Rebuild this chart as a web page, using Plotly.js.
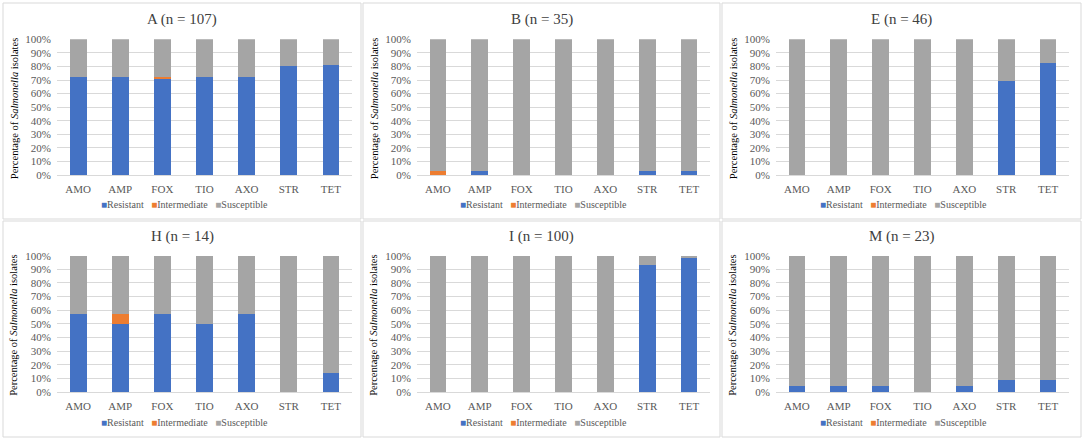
<!DOCTYPE html>
<html><head><meta charset="utf-8">
<script src="https://cdn.plot.ly/plotly-3.0.1.min.js"></script>
<style>body{margin:0;background:#fff}#chart{width:1084px;height:440px}</style>
</head><body><div id="chart"></div>
<script>
const antibiotics = ['AMO','AMP','FOX','TIO','AXO','STR','TET'];
const panelTitles = ['A (n = 107)','B (n = 35)','E (n = 46)','H (n = 14)','I (n = 100)','M (n = 23)'];
const seriesNames = ['Resistant','Intermediate','Susceptible'];
const seriesColors = ['#4472C4','#ED7D31','#A5A5A5'];
const yTickVals = [0,10,20,30,40,50,60,70,80,90,100];

// Percent of isolates per antibiotic
const resistantA    = [72.0,72.0,71.0,72.0,72.0,80.4,81.3];
const intermediateA = [0,0,0.9,0,0,0,0];
const susceptibleA  = [28.0,28.0,28.1,28.0,28.0,19.6,18.7];

const resistantB    = [0,2.9,0,0,0,2.9,2.9];
const intermediateB = [2.9,0,0,0,0,0,0];
const susceptibleB  = [97.1,97.1,100,100,100,97.1,97.1];

const resistantE    = [0,0,0,0,0,69.6,82.6];
const intermediateE = [0,0,0,0,0,0,0];
const susceptibleE  = [100,100,100,100,100,30.4,17.4];

const resistantH    = [57.1,50.0,57.1,50.0,57.1,0,14.3];
const intermediateH = [0,7.1,0,0,0,0,0];
const susceptibleH  = [42.9,42.9,42.9,50.0,42.9,100,85.7];

const resistantI    = [0,0,0,0,0,93,98];
const intermediateI = [0,0,0,0,0,0,0];
const susceptibleI  = [100,100,100,100,100,7,2];

const resistantM    = [4.3,4.3,4.3,0,4.3,8.7,8.7];
const intermediateM = [0,0,0,0,0,0,0];
const susceptibleM  = [95.7,95.7,95.7,100,95.7,91.3,91.3];

const panelData = [
  [resistantA, intermediateA, susceptibleA],
  [resistantB, intermediateB, susceptibleB],
  [resistantE, intermediateE, susceptibleE],
  [resistantH, intermediateH, susceptibleH],
  [resistantI, intermediateI, susceptibleI],
  [resistantM, intermediateM, susceptibleM]
];

// layout geometry in pixels
const W = 1084, H = 440;
const FONT = '"Liberation Serif", "Times New Roman", "DejaVu Serif", serif';
const panelBoxes = [
  [3,361,3,219],[363,720,3,219],[722,1081,3,219],
  [3,361,221,437],[363,720,221,437],[722,1081,221,437]
];
const plotX = [[57,352],[417,710],[776,1069]];
const plotY = [[39.3,175],[255.7,392]];
const titleY = [19, 236];
const legendY = [205, 422];

const px = v => v / W;
const py = v => 1 - v / H;

const traces = [];
const layout = {
  width: W, height: H,
  margin: {l:0, r:0, t:0, b:0},
  paper_bgcolor: '#ffffff', plot_bgcolor: '#ffffff',
  barmode: 'stack', bargap: 0.6,
  showlegend: false,
  font: {family: FONT, color: '#595959', size: 10},
  shapes: [], annotations: []
};

panelData.forEach((series, p) => {
  const col = p % 3, row = Math.floor(p / 3);
  const sfx = p === 0 ? '' : String(p + 1);
  series.forEach((vals, s) => {
    traces.push({
      type: 'bar', x: antibiotics, y: vals, name: seriesNames[s],
      xaxis: 'x' + sfx, yaxis: 'y' + sfx,
      marker: {color: seriesColors[s], line: {width: 0}},
      hoverinfo: 'x+y+name'
    });
  });
  layout['xaxis' + sfx] = {
    domain: [px(plotX[col][0]), px(plotX[col][1])],
    anchor: 'y' + sfx,
    showgrid: false, zeroline: false,
    showline: true, linecolor: '#d9d9d9', linewidth: 1,
    ticks: '', ticklabelstandoff: 4,
    tickfont: {family: FONT, size: 11, color: '#595959'},
    fixedrange: true
  };
  layout['yaxis' + sfx] = {
    domain: [py(plotY[row][1]), py(plotY[row][0])],
    anchor: 'x' + sfx,
    range: [0, 100],
    tickvals: yTickVals, ticktext: yTickVals.map(v => v + '%'),
    showgrid: true, gridcolor: '#d9d9d9', gridwidth: 1,
    zeroline: false, showline: false, ticks: '', ticklabelstandoff: 5,
    tickfont: {family: FONT, size: 11, color: '#595959'},
    fixedrange: true
  };
  const b = panelBoxes[p];
  layout.shapes.push({
    type: 'rect', xref: 'paper', yref: 'paper',
    x0: px(b[0]), x1: px(b[1]), y0: py(b[3]), y1: py(b[2]),
    line: {color: '#d9d9d9', width: 1}, fillcolor: 'rgba(0,0,0,0)', layer: 'below'
  });
  const cx = (b[0] + b[1]) / 2;
  layout.annotations.push({
    xref: 'paper', yref: 'paper', x: px(cx), y: py(titleY[row]),
    xanchor: 'center', yanchor: 'middle', showarrow: false,
    text: panelTitles[p],
    font: {family: FONT, size: 15, color: '#404040'}
  });
  layout.annotations.push({
    xref: 'paper', yref: 'paper', x: px(b[0] + 11), y: py((plotY[row][0] + plotY[row][1]) / 2 + 2),
    xanchor: 'center', yanchor: 'middle', showarrow: false, textangle: -90,
    text: 'Percentage of <i>Salmonella</i> isolates',
    font: {family: FONT, size: 10.5, color: '#000000'}
  });
  const legendText = seriesNames.map((n, s) =>
    '<span style="color:' + seriesColors[s] + '">■</span>' + n).join('&nbsp;&nbsp;&nbsp;');
  layout.annotations.push({
    xref: 'paper', yref: 'paper', x: px(cx + 2), y: py(legendY[row]),
    xanchor: 'center', yanchor: 'middle', showarrow: false,
    text: legendText,
    font: {family: FONT, size: 10, color: '#595959'}
  });
});

Plotly.newPlot('chart', traces, layout, {staticPlot: true, displayModeBar: false});
</script>
</body></html>
